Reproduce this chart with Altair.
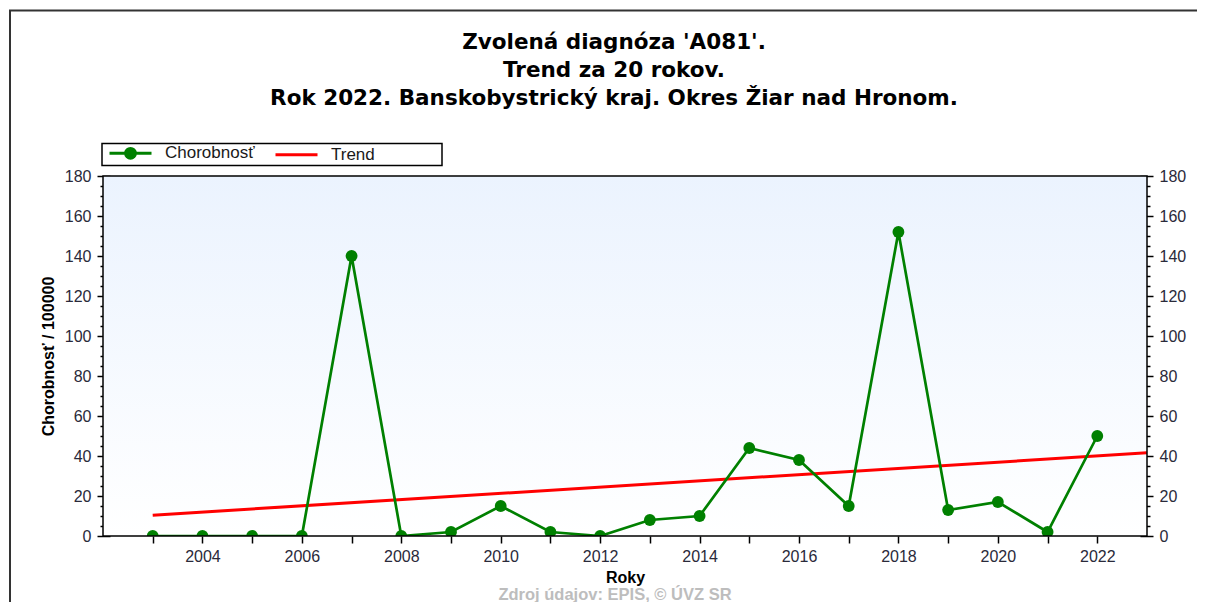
import altair as alt
import pandas as pd

# ---- data ----
years = list(range(2003, 2023))
chorobnost = [0, 0, 0, 0, 140, 0, 2, 15, 2, 0, 8, 10, 44, 38, 15, 152, 13, 17, 2, 50]
trend_years = [2003, 2023]
trend_values = [10.4, 41.6]
series_names = ["Chorobnosť", "Trend"]
series_colors = ["#008000", "#ff0000"]
title_lines = ["Zvolená diagnóza 'A081'.", "Trend za 20 rokov.",
               "Rok 2022. Banskobystrický kraj. Okres Žiar nad Hronom."]
x_title = "Roky"
y_title = "Chorobnosť / 100000"
footer_text = "Zdroj údajov: EPIS, © ÚVZ SR"
x_domain = [2002, 2023]
y_domain = [0, 180]
y_major = list(range(0, 181, 20))
y_minor = [v for v in range(0, 181, 5) if v % 20]
even_years = [y for y in years if y % 2 == 0]
odd_years = [y for y in years if y % 2 == 1]

df_c = pd.DataFrame({"year": years, "value": chorobnost, "series": series_names[0]})
df_t = pd.DataFrame({"year": trend_years, "value": trend_values, "series": series_names[1]})
one = pd.DataFrame({"k": [0]})

FONT = "Liberation Sans"
LBL = "#2a2a3a"

xs = alt.Scale(domain=x_domain, nice=False, zero=False)
ys = alt.Scale(domain=y_domain, nice=False, zero=False)
cs = alt.Scale(domain=series_names, range=series_colors)

common = dict(grid=False, domain=False, tickColor="black", tickWidth=1.5, labelFlush=False)

x_bottom = alt.Axis(orient="bottom", values=years, format="d",
                    labelExpr="datum.value % 2 == 0 ? datum.label : ''",
                    tickSize=7, labelPadding=5, labelFont=FONT, labelFontSize=16,
                    labelColor=LBL, title=x_title, titleFont=FONT, titleFontSize=16,
                    titleFontWeight="bold", titleColor="black", titlePadding=5, **common)
x_top_even = alt.Axis(orient="top", values=even_years, labels=False, offset=-6,
                      tickSize=6, title=None, **common)
x_top_odd = alt.Axis(orient="top", values=odd_years, labels=False, offset=-4,
                     tickSize=4, title=None, **common)
y_left = alt.Axis(orient="left", values=y_major, offset=-7, tickSize=13, labelPadding=6,
                  labelFont=FONT, labelFontSize=16, labelColor=LBL,
                  title=y_title, titleFont=FONT, titleFontSize=16, titleFontWeight="bold",
                  titleColor="black", titlePadding=8, **common)
y_left_minor = alt.Axis(orient="left", values=y_minor, offset=-3, tickSize=6,
                        labels=False, title=None, **common)
y_right = alt.Axis(orient="right", values=y_major, offset=-7, tickSize=13, labelPadding=6,
                   labelFont=FONT, labelFontSize=16, labelColor=LBL, title=None, **common)
y_right_minor = alt.Axis(orient="right", values=y_minor, offset=-3, tickSize=6,
                         labels=False, title=None, **common)

PAD = "\u00a0" * 14 + "\u200b"
SYM_TREND = "M-3,0L3,0"
SYM_DOT = "M-3,0L3,0M-0.7,0A0.7,0.7,0,1,1,0.7,0A0.7,0.7,0,1,1,-0.7,0Z"
legend = alt.Legend(
    orient="none", legendX=-1, legendY=-32.5, direction="horizontal", title=None,
    symbolSize=196, symbolStrokeWidth=3, symbolOffset=19, labelOffset=26,
    symbolType={"expr": "datum.value === 'Trend' ? '" + SYM_TREND + "' : '" + SYM_DOT + "'"},
    symbolFillColor={"expr": "datum.value === 'Trend' ? 'transparent' : '" + series_colors[0] + "'"},
    symbolOpacity=1,
    labelFont=FONT, labelFontSize=17, labelColor="#1a1a1a", padding=1,
    columnPadding=14, strokeColor="black", fillColor="white",
    labelExpr="datum.label == 'Trend' ? 'Trend' + '" + PAD + "' : datum.label",
)

bg = alt.Chart(one).mark_rect(
    color=alt.LinearGradient(gradient="linear", x1=0, x2=0, y1=0, y2=1,
                             stops=[alt.GradientStop(color="#ebf3fe", offset=0),
                                    alt.GradientStop(color="#ffffff", offset=1)])
).encode(x=alt.value(0), x2=alt.value("width"), y=alt.value(0), y2=alt.value("height"))

trend = alt.Chart(df_t).mark_line(strokeWidth=3, clip=True).encode(
    x=alt.X("year:Q", scale=xs, axis=x_bottom),
    y=alt.Y("value:Q", scale=ys, axis=y_left),
    color=alt.Color("series:N", scale=cs, legend=legend),
)

line = alt.Chart(df_c).mark_line(strokeWidth=2.7, clip=True).encode(
    x=alt.X("year:Q", scale=xs, axis=x_top_even),
    y=alt.Y("value:Q", scale=ys, axis=y_right),
    color=alt.Color("series:N", scale=cs, legend=legend),
)

points = alt.Chart(df_c).mark_circle(size=140, opacity=1, color=series_colors[0], clip=True).encode(
    x=alt.X("year:Q", scale=xs, axis=x_top_odd),
    y=alt.Y("value:Q", scale=ys, axis=y_left_minor),
)

ghost = alt.Chart(df_c).mark_point(opacity=0).encode(
    x=alt.X("year:Q", scale=xs, axis=None),
    y=alt.Y("value:Q", scale=ys, axis=y_right_minor),
)

border = alt.Chart(one).mark_rect(fill="transparent", stroke="black", strokeWidth=1.5).encode(
    x=alt.value(0), x2=alt.value("width"), y=alt.value(0), y2=alt.value("height"))

frame_left = alt.Chart(one).mark_rule(color="#333333", strokeWidth=2).encode(
    x=alt.value(-93), y=alt.value(-165.5), y2=alt.value(460))
frame_top = alt.Chart(one).mark_rule(color="#333333", strokeWidth=2).encode(
    x=alt.value(-94), x2=alt.value(1200), y=alt.value(-165.5))

footer = alt.Chart(one).mark_text(
    text=footer_text, font=FONT, fontSize=16.5, fontWeight="bold", color="#bdbdbd",
    align="center", baseline="top"
).encode(x=alt.value(512), y=alt.value(411))

chart = alt.layer(
    bg, trend, line, points, ghost, border, frame_left, frame_top, footer
).resolve_scale(x="shared", y="shared", color="shared").resolve_axis(
    x="independent", y="independent"
).properties(
    width=1044, height=360,
    padding={"left": 95, "top": 168, "right": 50, "bottom": 66},
    autosize=alt.AutoSizeParams(type="none"),
    title=alt.TitleParams(text=title_lines, font="DejaVu Sans", fontSize=21.5,
                          fontWeight="bold", color="black", anchor="middle",
                          frame="group", lineHeight=28, offset=0, dx=-11, dy=100),
).configure_view(stroke=None).configure_legend(strokeWidth=1.5)

chart.save("out.html", embed_options={"renderer": "svg", "actions": False})
